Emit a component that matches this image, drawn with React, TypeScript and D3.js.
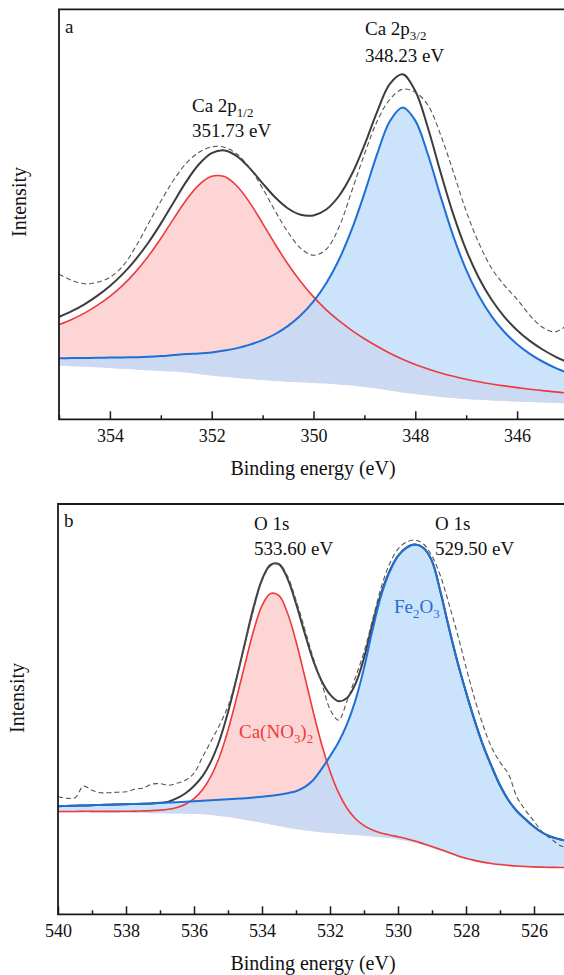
import React, { useEffect, useRef } from 'react';
import * as d3 from 'd3';

// Panel a: Ca 2p region, binding energy grid (eV) and intensities (a.u.)
const caEnergy = [
  355, 354.75, 354.5, 354.25, 354, 353.75, 353.5, 353.25, 353, 352.75,
  352.5, 352.25, 352, 351.75, 351.5, 351.25, 351, 350.75, 350.5, 350.25,
  350, 349.75, 349.5, 349.25, 349, 348.75, 348.5, 348.25, 348, 347.75,
  347.5, 347.25, 347, 346.75, 346.5, 346.25, 346, 345.75, 345.5, 345.25, 345,
];
const caRaw = [
  145, 139, 135.5, 137, 142, 153, 172, 195, 218, 239,
  256, 267, 272.5, 272, 265, 251, 231, 208, 187, 171,
  164, 170, 192, 228, 265, 298, 320, 330, 327, 314,
  284, 247, 208, 176, 151, 134, 120, 104, 92, 87.5, 95,
];
const caEnvelope = [
  102.3, 108.1, 115.0, 123.4, 133.3, 145.2, 159.5, 176.3, 195.7, 216.9,
  237.7, 255.0, 266.1, 268.9, 263.0, 250.9, 236.0, 221.8, 210.8, 204.5,
  203.9, 209.8, 223.3, 244.8, 274.1, 307.5, 335.4, 345.0, 328.3, 291.1,
  246.4, 204.4, 169.2, 141.3, 119.5, 102.5, 89.1, 78.4, 69.8, 62.7, 56.8,
];
const caP12 = [
  94.7, 99.9, 106.2, 113.9, 122.9, 133.9, 147.2, 162.8, 180.8, 200.4,
  219.3, 234.5, 243.0, 242.7, 233.1, 216.4, 196.0, 174.8, 155.0, 137.5,
  122.4, 109.5, 98.6, 89.0, 80.6, 73.0, 66.1, 60.1, 54.8, 50.3,
  46.4, 43.0, 40.0, 37.5, 35.3, 33.4, 31.7, 30.1, 28.7, 27.4, 26.2,
];
const caP32 = [
  61.1, 61.2, 61.3, 61.5, 61.7, 61.8, 62.1, 62.5, 63.2, 64.2,
  65.2, 65.8, 66.9, 68.7, 71.2, 74.7, 79.2, 85.3, 93.4, 104.0,
  117.9, 136.0, 159.6, 189.6, 225.9, 265.2, 298.1, 311.8, 298.7, 264.5,
  222.4, 182.7, 149.5, 123.3, 103.0, 87.3, 75.1, 65.5, 57.8, 51.5, 46.4,
];
const caBackground = [
  53.5, 53, 52.5, 52, 51.3, 50.5, 49.8, 49, 48.3, 47.7,
  46.8, 45.3, 43.8, 42.5, 41.3, 40.2, 39.2, 38.3, 37.6, 37,
  36.4, 35.7, 34.9, 33.8, 32.4, 30.7, 28.8, 26.9, 25.2, 23.7,
  22.4, 21.3, 20.3, 19.5, 18.8, 18.2, 17.7, 17.2, 16.7, 16.2, 15.8,
];
const caMajorTicks = [354, 352, 350, 348, 346];
const caMinorTicks = [355, 353, 351, 349, 347, 345];

// Panel b: O 1s region
const oEnergy = [
  540, 539.75, 539.5, 539.25, 539, 538.75, 538.5, 538.25, 538, 537.75,
  537.5, 537.25, 537, 536.75, 536.5, 536.25, 536, 535.75, 535.5, 535.25,
  535, 534.75, 534.5, 534.25, 534, 533.75, 533.5, 533.25, 533, 532.75,
  532.5, 532.25, 532, 531.75, 531.5, 531.25, 531, 530.75, 530.5, 530.25,
  530, 529.75, 529.5, 529.25, 529, 528.75, 528.5, 528.25, 528, 527.75,
  527.5, 527.25, 527, 526.75, 526.5, 526.25, 526, 525.75, 525.5, 525.25, 525,
];
const oRaw = [
  117.5, 116, 116.5, 128, 124, 121.5, 121.5, 122, 122.5, 125,
  126, 130, 130.5, 129, 131, 134, 141, 157, 173, 189,
  208, 237, 270, 304, 333, 348, 350, 338, 314, 286,
  257, 232, 205, 194, 213, 237, 262, 294, 326, 350,
  365, 372, 374, 370, 358, 338, 310, 280, 247, 216,
  189, 167, 152, 140, 117, 104, 93, 82, 75.5, 69, 66,
];
const oEnvelope = [
  108, 108.2, 108.5, 108.7, 109, 109.2, 109.5, 109.7, 110, 110.2,
  110.5, 110.8, 111.4, 112.5, 116.0, 121.0, 128.2, 138.0, 152.8, 173.7,
  201.8, 235.5, 271.4, 306.7, 334.5, 349.2, 349.8, 335.5, 310.6, 281.6,
  254.2, 233.4, 219.7, 213.0, 216.2, 230.3, 256.1, 290.4, 320.5, 343,
  358.3, 366.5, 369.5, 366, 353, 322, 286, 252, 222, 194,
  169, 148, 129, 114, 103, 95, 87.5, 81.5, 77.5, 75, 73,
];
const oNitrate = [
  102.8, 102.8, 102.8, 102.9, 102.9, 102.9, 102.9, 102.9, 103.0, 103.1,
  103.3, 103.6, 104.1, 105.0, 106.8, 110.0, 115.5, 124.5, 138.0, 157.5,
  184.0, 216.0, 250.0, 283.0, 308.5, 320.5, 318.5, 301.1, 272.8, 238.6,
  203.2, 170.4, 142.9, 121.5, 106.0, 95.5, 88.6, 84.2, 81.3, 79.3,
  77.5, 75.5, 73.2, 70.5, 67.7, 64.8, 61.7, 58.6, 56.0, 53.9,
  52.1, 50.8, 49.7, 48.9, 48.2, 47.7, 47.4, 47.1, 46.9, 46.8, 46.7,
];
const oOxide = [
  108, 108.2, 108.5, 108.7, 109, 109.2, 109.5, 109.7, 110, 110.2,
  110.5, 110.8, 111.2, 111.6, 112, 112.5, 113, 113.5, 114, 114.5,
  115, 115.5, 116, 116.7, 117.5, 118.5, 119.5, 121, 123, 127,
  134, 145, 158, 172, 190, 214, 246, 284, 318, 342,
  358, 366.5, 369.5, 366, 353, 322, 286, 252, 222, 194,
  169, 148, 129, 114, 103, 95, 87.5, 81.5, 77.5, 75, 73,
];
const oBackground = [
  102.0, 102.0, 101.9, 101.9, 101.8, 101.7, 101.6, 101.5, 101.4, 101.3,
  101.2, 101.1, 101.0, 100.8, 100.7, 100.5, 100.3, 100.0, 99.2, 98.3,
  97.2, 96.0, 94.6, 93.0, 91.5, 89.8, 88.2, 86.6, 85.2, 84.0,
  83.0, 82.0, 81.2, 80.5, 79.8, 79.2, 78.5, 77.8, 77.0, 76.2,
  75.0, 73.5, 71.5, 69.0, 66.3, 63.5, 60.5, 57.5, 55.0, 53.0,
  51.3, 50.0, 49.0, 48.2, 47.6, 47.1, 46.8, 46.6, 46.4, 46.3, 46.3,
];
const oMajorTicks = [540, 538, 536, 534, 532, 530, 528, 526];
const oMinorTicks = [539, 537, 535, 533, 531, 529, 527, 525];

const FONT = '"Liberation Serif", "Times New Roman", Times, serif';
const RED = '#ee3a3a';
const BLUE = '#1f6fd6';
const INK = '#1a1a1a';

type Part = [string, boolean?];
type Note = { x: number; y: number; parts: Part[]; color?: string };

const caNotes: Note[] = [
  { x: 65, y: 33, parts: [['a']] },
  { x: 192, y: 112, parts: [['Ca 2p'], ['1/2', true]] },
  { x: 192, y: 137, parts: [['351.73 eV']] },
  { x: 365, y: 35, parts: [['Ca 2p'], ['3/2', true]] },
  { x: 365, y: 62, parts: [['348.23 eV']] },
];
const oNotes: Note[] = [
  { x: 64, y: 527, parts: [['b']] },
  { x: 254, y: 530, parts: [['O 1s']] },
  { x: 254, y: 555, parts: [['533.60 eV']] },
  { x: 435, y: 530, parts: [['O 1s']] },
  { x: 435, y: 555, parts: [['529.50 eV']] },
  { x: 394, y: 613, parts: [['Fe'], ['2', true], ['O'], ['3', true]], color: BLUE },
  { x: 239, y: 738, parts: [['Ca(NO'], ['3', true], [')'], ['2', true]], color: RED },
];

function writeNote(g: any, note: Note, size = 19) {
  const t = g.append('text')
    .attr('x', note.x).attr('y', note.y)
    .attr('font-family', FONT).attr('font-size', size)
    .attr('fill', note.color || '#111');
  let down = false;
  note.parts.forEach(([s, sub]) => {
    const ts = t.append('tspan').text(s);
    if (sub) {
      ts.attr('font-size', size * 0.68);
      if (!down) ts.attr('dy', 5);
      down = true;
    } else {
      if (down) ts.attr('dy', -5);
      down = false;
    }
  });
}

function drawPanel(svg: any, cfg: any) {
  const { energy, raw, envelope, compA, compB, background, domain,
    left, right, top, bottom, major, minor, notes, yLabel, xLabelY } = cfg;

  const x = d3.scaleLinear().domain(domain).range([left, right]);
  const y = d3.scaleLinear().domain([0, 410]).range([bottom, top]);
  const idx = d3.range(energy.length);
  const curve = d3.curveCatmullRom.alpha(0.5);

  const area = (vals: number[]) => d3.area<number>()
    .x(i => x(energy[i])).y0(i => y(background[i])).y1(i => y(vals[i])).curve(curve)(idx);
  const line = (vals: number[]) => d3.line<number>()
    .x(i => x(energy[i])).y(i => y(vals[i])).curve(curve)(idx);

  const g = svg.append('g');

  // component fills
  g.append('path').attr('d', area(compA)).attr('fill', '#fdd5d5');
  g.append('path').attr('d', area(compB)).attr('fill', 'rgb(189,219,251)').attr('fill-opacity', 0.77);

  // envelope, raw data and components
  g.append('path').attr('d', line(envelope)).attr('fill', 'none')
    .attr('stroke', '#3d3d3d').attr('stroke-width', 2);
  g.append('path').attr('d', line(raw)).attr('fill', 'none')
    .attr('stroke', '#555').attr('stroke-width', 1.1).attr('stroke-dasharray', '5,3');
  g.append('path').attr('d', line(compA)).attr('fill', 'none')
    .attr('stroke', RED).attr('stroke-width', 1.6);
  g.append('path').attr('d', line(compB)).attr('fill', 'none')
    .attr('stroke', BLUE).attr('stroke-width', 2);

  // frame
  g.append('path')
    .attr('d', `M${right},${top}H${left}V${bottom}H${right}Z`)
    .attr('fill', 'none').attr('stroke', INK).attr('stroke-width', 1.8);

  // bottom axis, ticks pointing inward
  const ax = g.append('g').attr('transform', `translate(0,${bottom})`)
    .call(d3.axisBottom(x).tickValues(major).tickSizeInner(-8).tickSizeOuter(0)
      .tickPadding(10).tickFormat(d3.format('d')));
  ax.attr('font-family', FONT).attr('font-size', 18);
  ax.select('.domain').remove();
  ax.selectAll('line').attr('stroke', INK).attr('stroke-width', 1.5);
  ax.selectAll('text').attr('font-family', FONT).attr('font-size', 18).attr('fill', '#111');

  const mx = g.append('g').attr('transform', `translate(0,${bottom})`)
    .call(d3.axisBottom(x).tickValues(minor).tickSizeInner(-4).tickSizeOuter(0).tickFormat(() => ''));
  mx.select('.domain').remove();
  mx.selectAll('line').attr('stroke', INK).attr('stroke-width', 1.5);

  // axis titles
  g.append('text')
    .attr('x', 313).attr('y', xLabelY)
    .attr('text-anchor', 'middle')
    .attr('font-family', FONT).attr('font-size', 20).attr('fill', '#111')
    .text('Binding energy (eV)');
  g.append('text')
    .attr('transform', `translate(${yLabel[0]},${yLabel[1]}) rotate(-90)`)
    .attr('text-anchor', 'middle')
    .attr('font-family', FONT).attr('font-size', 20).attr('fill', '#111')
    .text('Intensity');

  notes.forEach((n: Note) => writeNote(g, n));
}

const App = () => {
  const svgRef = useRef<SVGSVGElement>(null);

  useEffect(() => {
    const svg = d3.select(svgRef.current);
    svg.selectAll('*').remove();

    drawPanel(svg, {
      energy: caEnergy, raw: caRaw, envelope: caEnvelope,
      compA: caP12, compB: caP32, background: caBackground,
      domain: [355, 345], left: 59, right: 568, top: 9.3, bottom: 419.3,
      major: caMajorTicks, minor: caMinorTicks, notes: caNotes,
      yLabel: [25.5, 202], xLabelY: 475,
    });

    drawPanel(svg, {
      energy: oEnergy, raw: oRaw, envelope: oEnvelope,
      compA: oNitrate, compB: oOxide, background: oBackground,
      domain: [540, 525], left: 58, right: 568, top: 504, bottom: 914.3,
      major: oMajorTicks, minor: oMinorTicks, notes: oNotes,
      yLabel: [23.5, 698], xLabelY: 970,
    });
  }, []);

  return (
    <svg
      ref={svgRef}
      width={564}
      height={975}
      style={{ position: 'absolute', left: 0, top: 0, background: '#fff' }}
    />
  );
};

export default App;
